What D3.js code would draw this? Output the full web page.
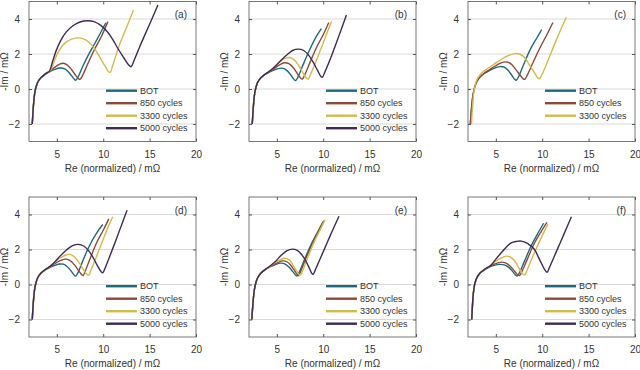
<!DOCTYPE html>
<html>
<head>
<meta charset="utf-8">
<script src="https://cdn.jsdelivr.net/npm/d3@7"></script>
<style>
  body { margin: 0; background: #fff; }
  svg { display: block; font-family: "Liberation Sans", Arial, sans-serif; }
</style>
</head>
<body>
<svg id="chart" width="640" height="370"></svg>
<script>
// series labels and colours
var seriesNames = ["BOT", "850 cycles", "3300 cycles", "5000 cycles"];
var seriesColors = ["#1d6a80", "#8c4a3a", "#d4b94c", "#3f2a55"];
var panelLabels = ["(a)", "(b)", "(c)", "(d)", "(e)", "(f)"];
var xTicks = [5, 10, 15, 20];
var yTicks = [-2, 0, 2, 4];

// Nyquist curves, [Re, -Im]
var bot_a = [[2.35,-2.0],[2.42,-1.4],[2.5,-0.8],[2.6,-0.3],[2.75,0.1],[2.95,0.4],[3.3,0.65],[3.8,0.85],[4.3,1.0],[4.8,1.12],[5.3,1.2],[5.8,1.17],[6.2,1.0],[6.6,0.75],[6.9,0.55],[7.05,0.5],[7.3,0.7],[7.8,1.3],[8.5,2.05],[9.3,2.8],[10.3,3.8]];
var c850_a = [[2.35,-2.0],[2.42,-1.4],[2.5,-0.8],[2.6,-0.3],[2.75,0.1],[2.95,0.4],[3.3,0.66],[3.8,0.87],[4.3,1.03],[4.8,1.25],[5.3,1.42],[5.7,1.47],[6.1,1.38],[6.6,1.1],[7.0,0.8],[7.35,0.58],[7.5,0.55],[7.75,0.75],[8.3,1.4],[9.0,2.2],[9.8,3.0],[10.5,3.85]];
var c3300_a = [[2.35,-2.0],[2.42,-1.4],[2.5,-0.8],[2.6,-0.3],[2.75,0.1],[2.95,0.4],[3.3,0.66],[3.8,0.88],[4.3,1.06],[4.6,1.4],[5.0,1.95],[5.5,2.4],[6.0,2.68],[6.6,2.85],[7.2,2.92],[7.8,2.88],[8.4,2.7],[9.0,2.35],[9.6,1.85],[10.2,1.3],[10.55,1.0],[10.75,0.95],[11.0,1.3],[11.7,2.45],[12.5,3.5],[13.25,4.5]];
var c5000_a = [[2.35,-2.0],[2.42,-1.4],[2.5,-0.8],[2.6,-0.3],[2.75,0.1],[2.95,0.4],[3.3,0.66],[3.8,0.88],[4.2,1.02],[4.5,1.5],[4.9,2.15],[5.4,2.75],[6.0,3.25],[6.7,3.6],[7.5,3.83],[8.3,3.9],[9.0,3.85],[9.7,3.65],[10.4,3.3],[11.0,2.85],[11.6,2.3],[12.2,1.8],[12.7,1.4],[13.0,1.27],[13.3,1.6],[14.0,2.5],[15.0,3.7],[15.9,4.8]];

var bot_b = [[2.35,-2.0],[2.42,-1.4],[2.5,-0.8],[2.6,-0.3],[2.75,0.1],[2.95,0.4],[3.3,0.65],[3.8,0.85],[4.3,1.0],[4.8,1.1],[5.3,1.18],[5.7,1.18],[6.1,1.05],[6.5,0.8],[6.85,0.55],[7.0,0.48],[7.25,0.65],[7.8,1.35],[8.5,2.2],[9.2,2.95],[9.8,3.45]];
var c850_b = [[2.35,-2.0],[2.42,-1.4],[2.5,-0.8],[2.6,-0.3],[2.75,0.1],[2.95,0.4],[3.3,0.66],[3.8,0.86],[4.3,1.02],[4.8,1.2],[5.3,1.38],[5.8,1.5],[6.3,1.45],[6.8,1.2],[7.3,0.8],[7.6,0.6],[7.75,0.57],[8.0,0.8],[8.6,1.55],[9.3,2.4],[10.0,3.1],[10.6,3.8]];
var c3300_b = [[2.35,-2.0],[2.42,-1.4],[2.5,-0.8],[2.6,-0.3],[2.75,0.1],[2.95,0.4],[3.3,0.66],[3.8,0.87],[4.3,1.05],[4.8,1.3],[5.3,1.55],[5.9,1.75],[6.4,1.8],[6.9,1.65],[7.4,1.3],[7.9,0.85],[8.2,0.62],[8.38,0.57],[8.6,0.8],[9.2,1.55],[9.9,2.5],[10.4,3.2],[10.9,3.85]];
var c5000_b = [[2.35,-2.0],[2.42,-1.4],[2.5,-0.8],[2.6,-0.3],[2.75,0.1],[2.95,0.4],[3.3,0.66],[3.8,0.87],[4.3,1.05],[4.8,1.28],[5.4,1.62],[6.1,1.96],[6.7,2.2],[7.3,2.28],[7.9,2.2],[8.4,1.95],[8.9,1.55],[9.4,1.05],[9.75,0.72],[9.9,0.67],[10.2,1.0],[10.9,1.9],[11.7,3.05],[12.5,4.23]];

var bot_c = [[2.25,-2.0],[2.33,-1.4],[2.43,-0.8],[2.55,-0.3],[2.72,0.1],[2.95,0.42],[3.3,0.68],[3.8,0.9],[4.3,1.05],[4.8,1.18],[5.4,1.28],[5.9,1.25],[6.3,1.08],[6.7,0.8],[7.0,0.57],[7.2,0.5],[7.45,0.7],[8.0,1.4],[8.7,2.25],[9.4,2.9],[9.95,3.4]];
var c850_c = [[2.25,-2.0],[2.33,-1.4],[2.43,-0.8],[2.55,-0.3],[2.72,0.1],[2.95,0.43],[3.3,0.7],[3.8,0.93],[4.3,1.1],[4.9,1.3],[5.5,1.48],[6.1,1.55],[6.6,1.45],[7.1,1.15],[7.6,0.8],[7.95,0.58],[8.1,0.55],[8.35,0.75],[9.0,1.5],[9.8,2.4],[10.5,3.1],[11.15,3.8]];
var c3300_c = [[2.38,-2.0],[2.44,-1.4],[2.52,-0.8],[2.6,-0.3],[2.72,0.1],[2.92,0.48],[3.25,0.78],[3.7,1.02],[4.2,1.2],[4.9,1.45],[5.6,1.7],[6.3,1.9],[7.0,2.02],[7.5,2.0],[8.0,1.85],[8.6,1.4],[9.2,0.9],[9.55,0.62],[9.7,0.59],[9.95,0.8],[10.6,1.6],[11.4,2.65],[12.0,3.4],[12.6,4.1]];

var bot_d = [[2.35,-2.0],[2.42,-1.4],[2.5,-0.8],[2.6,-0.3],[2.75,0.1],[2.95,0.4],[3.3,0.65],[3.8,0.85],[4.3,1.0],[4.8,1.1],[5.3,1.17],[5.7,1.16],[6.1,1.03],[6.5,0.8],[6.85,0.55],[7.02,0.48],[7.25,0.65],[7.8,1.35],[8.5,2.2],[9.3,2.95],[9.95,3.43]];
var c850_d = [[2.35,-2.0],[2.42,-1.4],[2.5,-0.8],[2.6,-0.3],[2.75,0.1],[2.95,0.4],[3.3,0.66],[3.8,0.86],[4.3,1.02],[4.8,1.2],[5.3,1.35],[5.9,1.45],[6.4,1.38],[6.9,1.12],[7.4,0.75],[7.7,0.55],[7.84,0.51],[8.05,0.75],[8.6,1.5],[9.3,2.4],[10.0,3.1],[10.6,3.75]];
var c3300_d = [[2.35,-2.0],[2.42,-1.4],[2.5,-0.8],[2.6,-0.3],[2.75,0.1],[2.95,0.4],[3.3,0.66],[3.8,0.87],[4.3,1.05],[4.8,1.28],[5.3,1.5],[5.9,1.67],[6.4,1.72],[6.9,1.58],[7.4,1.25],[7.9,0.82],[8.25,0.58],[8.45,0.54],[8.65,0.78],[9.2,1.5],[9.9,2.45],[10.5,3.25],[11.03,3.87]];
var c5000_d = [[2.35,-2.0],[2.42,-1.4],[2.5,-0.8],[2.6,-0.3],[2.75,0.1],[2.95,0.4],[3.3,0.66],[3.8,0.87],[4.3,1.05],[4.8,1.3],[5.4,1.65],[6.1,2.0],[6.7,2.22],[7.3,2.29],[7.9,2.2],[8.4,1.95],[8.9,1.55],[9.4,1.05],[9.8,0.72],[9.96,0.67],[10.25,1.0],[10.95,1.95],[11.8,3.15],[12.57,4.25]];

var bot_e = [[2.3,-2.0],[2.38,-1.4],[2.47,-0.8],[2.58,-0.3],[2.74,0.1],[2.95,0.4],[3.3,0.66],[3.8,0.87],[4.3,1.02],[4.8,1.13],[5.4,1.22],[5.9,1.17],[6.3,1.0],[6.7,0.75],[7.0,0.55],[7.15,0.48],[7.4,0.7],[8.0,1.45],[8.7,2.3],[9.4,3.0],[10.0,3.6]];
var c850_e = [[2.3,-2.0],[2.38,-1.4],[2.47,-0.8],[2.58,-0.3],[2.74,0.1],[2.95,0.4],[3.3,0.66],[3.8,0.87],[4.3,1.03],[4.9,1.2],[5.6,1.35],[6.1,1.3],[6.5,1.1],[6.9,0.8],[7.2,0.56],[7.3,0.5],[7.55,0.72],[8.1,1.45],[8.8,2.3],[9.5,3.05],[10.1,3.65]];
var c3300_e = [[2.3,-2.0],[2.38,-1.4],[2.47,-0.8],[2.58,-0.3],[2.74,0.1],[2.95,0.4],[3.3,0.66],[3.8,0.88],[4.3,1.05],[5.0,1.3],[5.8,1.5],[6.3,1.42],[6.7,1.15],[7.1,0.8],[7.38,0.57],[7.5,0.52],[7.75,0.75],[8.3,1.5],[9.0,2.4],[9.6,3.05],[10.2,3.7]];
var c5000_e = [[2.3,-2.0],[2.38,-1.4],[2.47,-0.8],[2.58,-0.3],[2.74,0.1],[2.95,0.4],[3.3,0.66],[3.8,0.88],[4.3,1.07],[4.87,1.33],[5.5,1.68],[6.1,1.93],[6.66,2.02],[7.2,1.95],[7.9,1.55],[8.4,1.05],[8.75,0.65],[8.9,0.57],[9.2,0.9],[9.9,1.75],[10.8,2.85],[11.7,3.9]];

var bot_f = [[2.4,-2.0],[2.46,-1.4],[2.53,-0.8],[2.62,-0.3],[2.76,0.1],[2.97,0.4],[3.3,0.65],[3.8,0.85],[4.3,1.0],[4.8,1.09],[5.4,1.15],[5.9,1.12],[6.4,0.98],[6.8,0.75],[7.1,0.55],[7.3,0.48],[7.55,0.68],[8.1,1.35],[8.8,2.2],[9.5,2.9],[10.15,3.5]];
var c850_f = [[2.4,-2.0],[2.46,-1.4],[2.53,-0.8],[2.62,-0.3],[2.76,0.1],[2.97,0.4],[3.3,0.66],[3.8,0.86],[4.3,1.02],[4.9,1.18],[5.6,1.28],[6.1,1.22],[6.6,1.02],[7.0,0.77],[7.38,0.55],[7.55,0.51],[7.8,0.72],[8.4,1.45],[9.1,2.3],[9.8,2.95],[10.5,3.55]];
var c3300_f = [[2.4,-2.0],[2.46,-1.4],[2.53,-0.8],[2.62,-0.3],[2.76,0.1],[2.97,0.4],[3.3,0.66],[3.8,0.87],[4.3,1.05],[4.9,1.3],[5.6,1.52],[6.2,1.62],[6.8,1.48],[7.3,1.12],[7.7,0.75],[7.95,0.58],[8.1,0.55],[8.35,0.8],[8.9,1.5],[9.7,2.45],[10.6,3.45]];
var c5000_f = [[2.4,-2.0],[2.46,-1.4],[2.53,-0.8],[2.62,-0.3],[2.76,0.1],[2.97,0.4],[3.3,0.66],[3.8,0.87],[4.5,1.12],[5.0,1.45],[5.58,1.81],[6.1,2.12],[6.66,2.38],[7.2,2.46],[7.73,2.48],[8.4,2.35],[9.17,2.0],[9.6,1.55],[9.89,1.24],[10.3,0.82],[10.53,0.7],[10.8,1.0],[11.5,1.85],[12.4,2.95],[13.15,3.87]];

var panelSeries = [
  [bot_a, c850_a, c3300_a, c5000_a],
  [bot_b, c850_b, c3300_b, c5000_b],
  [bot_c, c850_c, c3300_c],
  [bot_d, c850_d, c3300_d, c5000_d],
  [bot_e, c850_e, c3300_e, c5000_e],
  [bot_f, c850_f, c3300_f, c5000_f]
];

var svg = d3.select("#chart");
var plotW = 167, plotH = 140;
var lefts = [29, 249, 468];
var tops = [1.5, 197];

function drawPanel(idx) {
  var left = lefts[idx % 3];
  var top = tops[Math.floor(idx / 3)];

  var x = d3.scaleLinear().domain([2, 20]).range([left, left + plotW]);
  var y = d3.scaleLinear().domain([-3, 5]).range([top + plotH, top]);

  var g = svg.append("g").attr("class", "panel");

  g.append("clipPath").attr("id", "clip" + idx)
    .append("rect")
    .attr("x", left).attr("y", top)
    .attr("width", plotW).attr("height", plotH);

  // horizontal grid
  g.append("g").selectAll("line")
    .data(yTicks)
    .enter().append("line")
    .attr("x1", left).attr("x2", left + plotW)
    .attr("y1", d => y(d)).attr("y2", d => y(d))
    .attr("stroke", "#d9d9d9")
    .attr("stroke-width", 1);

  // curves
  var line = d3.line()
    .x(d => x(d[0]))
    .y(d => y(d[1]))
    .curve(d3.curveCatmullRom.alpha(0.5));

  g.append("g").attr("clip-path", "url(#clip" + idx + ")")
    .selectAll("path")
    .data(panelSeries[idx])
    .enter().append("path")
    .attr("d", line)
    .attr("fill", "none")
    .attr("stroke", (d, i) => seriesColors[i])
    .attr("stroke-width", 1.4);

  // axes, ticks pointing inwards like matlab
  var axisColor = "#555";
  var bottom = g.append("g")
    .attr("transform", "translate(0," + (top + plotH) + ")")
    .call(d3.axisBottom(x).tickValues(xTicks).tickSizeInner(-3).tickSizeOuter(0).tickPadding(9));
  var leftAx = g.append("g")
    .attr("transform", "translate(" + left + ",0)")
    .call(d3.axisLeft(y).tickValues(yTicks).tickSizeInner(-3).tickSizeOuter(0).tickPadding(9));
  var topAx = g.append("g")
    .attr("transform", "translate(0," + top + ")")
    .call(d3.axisTop(x).tickValues(xTicks).tickSizeInner(-3).tickSizeOuter(0).tickFormat(""));
  var rightAx = g.append("g")
    .attr("transform", "translate(" + (left + plotW) + ",0)")
    .call(d3.axisRight(y).tickValues(yTicks).tickSizeInner(-3).tickSizeOuter(0).tickFormat(""));

  [bottom, leftAx, topAx, rightAx].forEach(function(a) {
    a.select(".domain").remove();
    a.selectAll("line").attr("stroke", axisColor);
    a.selectAll("text")
      .attr("fill", "#333")
      .style("font-size", "10px")
      .style("font-family", "'Liberation Sans', Arial, sans-serif");
  });

  g.append("rect")
    .attr("x", left).attr("y", top)
    .attr("width", plotW).attr("height", plotH)
    .attr("fill", "none")
    .attr("stroke", axisColor)
    .attr("stroke-width", 0.8);

  // panel tag
  g.append("text")
    .attr("x", left + plotW - 9)
    .attr("y", top + 16.5)
    .attr("text-anchor", "end")
    .attr("fill", "#333")
    .style("font-size", "10px")
    .text(panelLabels[idx]);

  // axis titles
  g.append("text")
    .attr("x", left + plotW / 2)
    .attr("y", top + plotH + 30)
    .attr("text-anchor", "middle")
    .attr("fill", "#333")
    .style("font-size", "10px")
    .text("Re (normalized) / m\u03A9");

  g.append("text")
    .attr("transform", "translate(" + (left - 21) + "," + (top + plotH / 2) + ") rotate(-90)")
    .attr("text-anchor", "middle")
    .attr("fill", "#333")
    .style("font-size", "10px")
    .text("-Im / m\u03A9");

  // legend
  var names = seriesNames.slice(0, panelSeries[idx].length);
  var legend = g.append("g")
    .attr("transform", "translate(" + (left + plotW - 90) + "," + (top + plotH - 50.8) + ")");

  var item = legend.selectAll(".legend-item")
    .data(names)
    .enter().append("g")
    .attr("class", "legend-item")
    .attr("transform", (d, i) => "translate(0," + (i * 12.5) + ")");

  item.append("line")
    .attr("x1", 0).attr("x2", 31)
    .attr("y1", 0).attr("y2", 0)
    .attr("stroke", (d, i) => seriesColors[i])
    .attr("stroke-width", 2.4);

  item.append("text")
    .attr("x", 34)
    .attr("dy", "0.35em")
    .attr("fill", "#333")
    .style("font-size", "9px")
    .text(d => d);
}

for (var i = 0; i < 6; i++) drawPanel(i);
</script>
</body>
</html>
